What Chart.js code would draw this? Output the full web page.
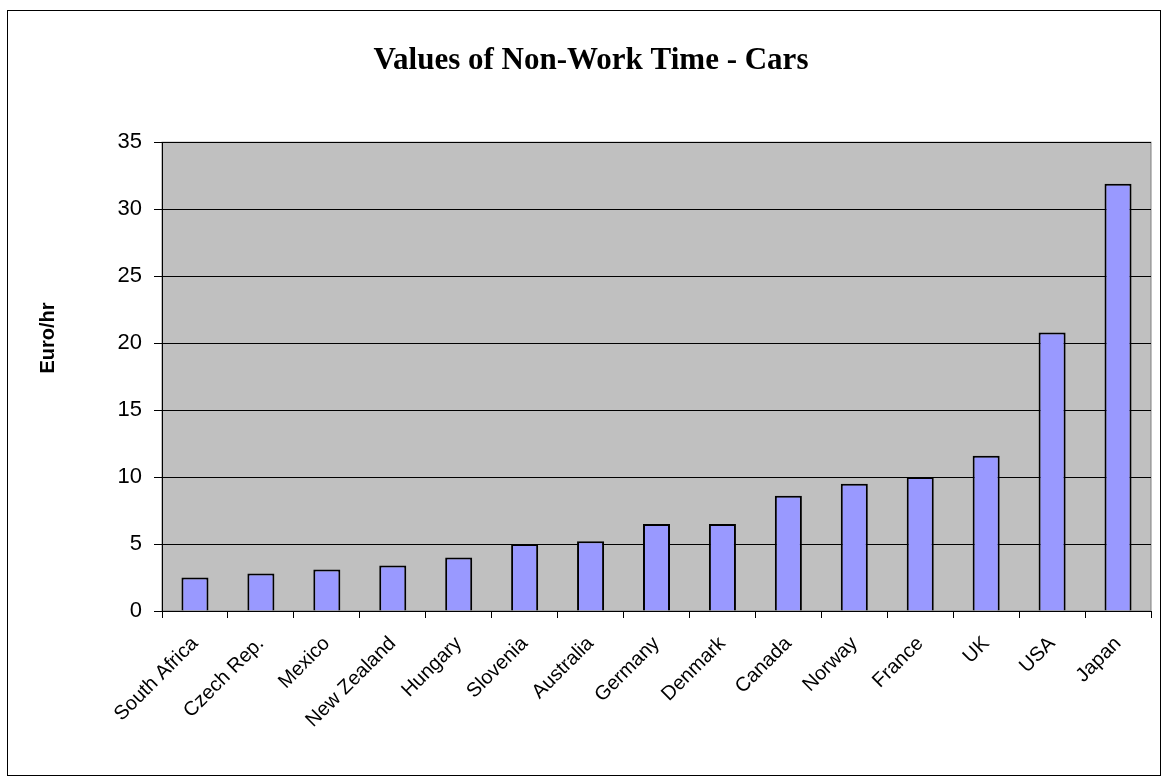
<!DOCTYPE html>
<html>
<head>
<meta charset="utf-8">
<title>Values of Non-Work Time - Cars</title>
<script src="https://cdn.jsdelivr.net/npm/chart.js@4.4.0/dist/chart.umd.min.js"></script>
<style>
    html, body { margin: 0; padding: 0; background: #fff; }
    #wrap { width: 1162px; height: 776px; }
</style>
</head>
<body>
<div id="wrap"><canvas id="bar-chart" width="1162" height="776"></canvas></div>
<script>
    // data
    var countries = ["South Africa", "Czech Rep.", "Mexico", "New Zealand", "Hungary", "Slovenia", "Australia",
        "Germany", "Denmark", "Canada", "Norway", "France", "UK", "USA", "Japan"];
    var euroPerHour = [2.5, 2.8, 3.1, 3.4, 4.0, 5.0, 5.2, 6.5, 6.5, 8.6, 9.5, 10.0, 11.6, 20.8, 31.9];
    var yTicks = [0, 5, 10, 15, 20, 25, 30, 35];

    var sansFont = "'Liberation Sans', Arial, sans-serif";

    // grey plot area + outer frame + y title
    var excelLook = {
        id: "excelLook",
        beforeDraw: function (chart) {
            var ctx = chart.ctx, a = chart.chartArea;
            ctx.save();
            ctx.fillStyle = "#fff";
            ctx.fillRect(0, 0, chart.width, chart.height);
            ctx.strokeStyle = "#000";
            ctx.lineWidth = 1;
            ctx.strokeRect(7.5, 10.5, 1153, 765);
            ctx.fillStyle = "#c0c0c0";
            ctx.fillRect(a.left, a.top, a.right - a.left, a.bottom - a.top);
            ctx.strokeStyle = "#808080";
            ctx.strokeRect(a.left, a.top, a.right - a.left, a.bottom - a.top);
            ctx.restore();
        },
        afterDraw: function (chart) {
            var ctx = chart.ctx;
            ctx.save();
            ctx.translate(48, 338);
            ctx.rotate(-Math.PI / 2);
            ctx.font = "bold 20px " + sansFont;
            ctx.fillStyle = "#000";
            ctx.textAlign = "center";
            ctx.textBaseline = "middle";
            ctx.fillText("Euro/hr", 0, 0);
            ctx.restore();
        }
    };

    var ctx = document.getElementById("bar-chart").getContext("2d");
    var myChart = new Chart(ctx, {
        type: "bar",
        data: {
            labels: countries,
            datasets: [{
                data: euroPerHour,
                backgroundColor: "#9999ff",
                borderColor: "#000",
                borderWidth: 2,
                barPercentage: 0.41,
                categoryPercentage: 1
            }]
        },
        options: {
            responsive: false,
            animation: false,
            devicePixelRatio: 1,
            layout: { padding: { left: 31, right: 11, top: 10, bottom: 0 } },
            plugins: {
                legend: { display: false },
                tooltip: { enabled: false },
                title: {
                    display: true,
                    text: "Values of Non-Work Time - Cars",
                    color: "#000",
                    font: { family: "'Liberation Serif', 'Times New Roman', serif", size: 31, weight: "bold", lineHeight: 1.2 },
                    padding: { top: 32, bottom: 63 }
                }
            },
            scales: {
                x: {
                    afterFit: function (scale) { scale.height = 165; },
                    grid: { display: true, drawOnChartArea: false, drawTicks: true, tickLength: 7, color: "#000", offset: true },
                    border: { display: true, color: "#000", width: 1 },
                    ticks: {
                        autoSkip: false,
                        maxRotation: 45,
                        minRotation: 45,
                        padding: 14,
                        color: "#000",
                        font: { family: sansFont, size: 20 }
                    }
                },
                y: {
                    min: 0,
                    max: 35,
                    afterFit: function (scale) { scale.width = 131; },
                    afterBuildTicks: function (scale) {
                        scale.ticks = yTicks.map(function (v) { return { value: v }; });
                    },
                    grid: { color: "#000", lineWidth: 1, drawTicks: true, tickLength: 8 },
                    border: { display: true, color: "#000", width: 1 },
                    ticks: {
                        padding: 12,
                        color: "#000",
                        font: { family: sansFont, size: 22 }
                    }
                }
            }
        },
        plugins: [excelLook]
    });
</script>
</body>
</html>
